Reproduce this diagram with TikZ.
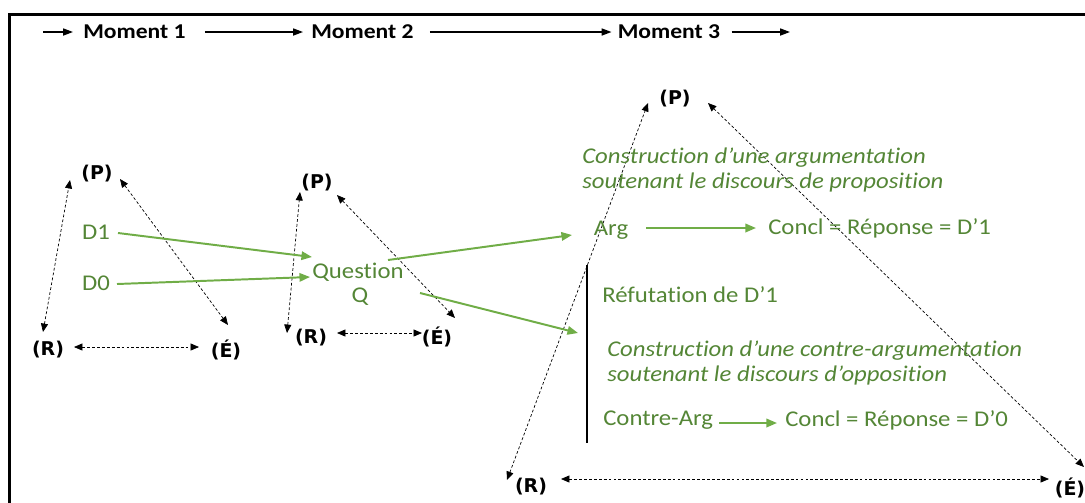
\documentclass[tikz,border=0pt]{standalone}
\usepackage{fontspec}
\usepackage{tikz}
\usetikzlibrary{arrows.meta}
\setmainfont{Carlito}
\newfontfamily\calfont[FakeStretch=1.1,Ligatures=NoCommon]{Carlito}
\newfontfamily\hdfont[FakeStretch=1.12]{Carlito}
\newfontfamily\corfont{DejaVu Sans}
\definecolor{txtgreen}{RGB}{84,134,54}
\definecolor{lngreen}{RGB}{112,173,71}

\begin{document}
\begin{tikzpicture}[x=0.025cm,y=-0.025cm,
  corner/.style={font=\corfont\bfseries\fontsize{13.5}{15}\selectfont, inner sep=0pt},
  moment/.style={font=\hdfont\bfseries\fontsize{15}{17}\selectfont, inner sep=0pt},
  gtext/.style={font=\calfont\fontsize{16}{18}\selectfont, text=txtgreen, inner sep=0pt},
  gital/.style={gtext, font=\calfont\itshape\fontsize{16}{18}\selectfont, align=left, anchor=west},
  twoway/.style={dash pattern=on 2pt off 1.5pt, line width=0.5pt, {Triangle[length=6pt,width=5pt]}-{Triangle[length=6pt,width=5pt]}},
  garrow/.style={lngreen, line width=1.4pt, -{Triangle[length=7.5pt,width=6pt]}},
  harrow/.style={line width=1pt, -{Triangle[length=7pt,width=5pt]}}]
  \useasboundingbox (0,0) rectangle (1085,502);
  \clip (0,0) rectangle (1085,502);
  % frame
  \draw[line width=1.5pt] (9.5,515) -- (9.5,14.5) -- (1095,14.5);

  % time line
  \node[moment] (M1) at (134.5,32) {Moment 1};
  \node[moment] (M2) at (362.5,32) {Moment 2};
  \node[moment] (M3) at (669,32) {Moment 3};
  \coordinate (tstart) at (43,32);
  \coordinate (tend) at (790,32);
  \draw[harrow] (tstart) -- ([shift={(-10,0)}]M1.west);
  \draw[harrow] ([shift={(19,0)}]M1.east) -- ([shift={(-8,0)}]M2.west);
  \draw[harrow] ([shift={(16,0)}]M2.east) -- ([shift={(-6,0)}]M3.west);
  \draw[harrow] ([shift={(11,0)}]M3.east) -- (tend);

  % triangles
  \node[corner] (P1) at (97,174) {(P)};
  \node[corner] (R1) at (48,350) {(R)};
  \node[corner] (E1) at (226,350) {(É)};
  \node[corner] (P2) at (317,183) {(P)};
  \node[corner] (R2) at (311,338) {(R)};
  \node[corner] (E2) at (437,337) {(É)};
  \node[corner] (P3) at (675,99) {(P)};
  \node[corner] (R3) at (531,487) {(R)};
  \node[corner] (E3) at (1070,488) {(É)};

  \draw[twoway] ([shift={(-5,-18)}]R1.center) -- ([shift={(-27,6)}]P1.center);
  \draw[twoway] ([shift={(23,5)}]P1.center) -- ([shift={(2,-25)}]E1.center);
  \draw[twoway] ([shift={(26,-3)}]R1.center) -- ([shift={(-27,-3)}]E1.center);

  \draw[twoway] ([shift={(-24,-5)}]R2.center) -- ([shift={(-17,9)}]P2.center);
  \draw[twoway] ([shift={(20,12)}]P2.center) -- ([shift={(18,-19)}]E2.center);
  \draw[twoway] ([shift={(26,-5)}]R2.center) -- ([shift={(-15,-4)}]E2.center);

  \draw[twoway] ([shift={(-24,-7)}]R3.center) -- ([shift={(-27,4)}]P3.center);
  \draw[twoway] ([shift={(33,4)}]P3.center) -- ([shift={(14,-21)}]E3.center);
  \draw[twoway] ([shift={(30,-8)}]R3.center) -- ([shift={(-21,-9)}]E3.center);

  % discourse
  \node[gtext] (D1) at (96,232) {D1};
  \node[gtext] (D0) at (96,283) {D0};
  \node[gtext] (Qn) at (358,272) {Question};
  \node[gtext] (Q) at (360,297) {Q};
  \node[gital] (pro) at (582,170) {Construction d’une argumentation\\soutenant le discours de proposition};
  \node[gtext] (Arg) at (611,230) {Arg};
  \node[gtext, anchor=west] (C1) at (768,228) {Concl = Réponse = D’1};
  \node[gtext, anchor=west] (Ref) at (602,295) {Réfutation de D’1};
  \node[gital] (opp) at (607,363) {Construction d’une contre-argumentation\\soutenant le discours d’opposition};
  \node[gtext, anchor=west] (CA) at (603,420) {Contre-Arg};
  \node[gtext, anchor=west] (C0) at (785,420) {Concl = Réponse = D’0};

  \coordinate (bt) at (587,265);
  \coordinate (bb) at (587,443);
  \coordinate (hit) at (578,333);
  \draw[line width=1pt] (bt) -- (bb);

  \draw[garrow] ([shift={(22,1)}]D1.center) -- ([shift={(-46,-15)}]Qn.center);
  \draw[garrow] ([shift={(21,1)}]D0.center) -- ([shift={(-48,5)}]Qn.center);
  \draw[garrow] ([shift={(30,-12)}]Qn.center) -- ([shift={(-39,5)}]Arg.center);
  \draw[garrow] ([shift={(60,-4)}]Q.center) -- (hit);
  \draw[garrow] ([shift={(35,-2)}]Arg.center) -- ([shift={(-12,0)}]C1.west);
  \draw[garrow] ([shift={(6,3)}]CA.east) -- ([shift={(-8,3)}]C0.west);
\end{tikzpicture}
\end{document}
